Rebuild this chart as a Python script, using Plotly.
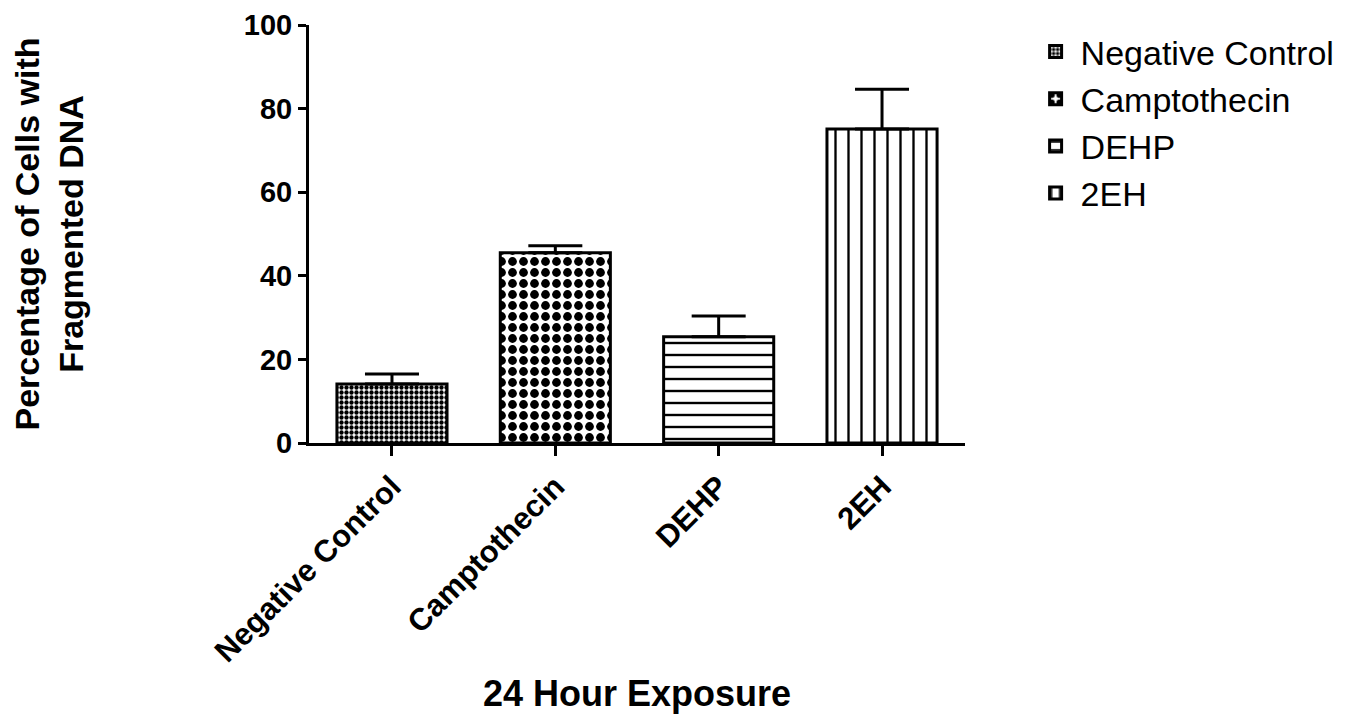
import plotly.graph_objects as go

categories = ["Negative Control", "Camptothecin", "DEHP", "2EH"]
means = [14.1, 45.5, 25.4, 75.1]
errors = [2.4, 1.7, 5.0, 9.5]
patterns = [".", ".", "-", "|"]
pattern_sizes = [5, 11, 12, 13]
pattern_solidity = [0.6, 0.5, 0.2, 0.18]

FONT = "Liberation Sans, Arial, sans-serif"

fig = go.Figure()
for i, cat in enumerate(categories):
    fig.add_trace(go.Bar(
        x=[cat], y=[means[i]], name=cat, width=0.674,
        legendgroup=cat,
        marker=dict(
            color="white",
            line=dict(color="black", width=3),
            pattern=dict(shape=patterns[i], size=pattern_sizes[i],
                         solidity=pattern_solidity[i],
                         fgcolor="black", bgcolor="white", fgopacity=1,
                         fillmode="overlay"),
        ),
        error_y=dict(type="data", array=[errors[i]], arrayminus=[0],
                     symmetric=False, color="black", thickness=3, width=27),
    ))

fig.update_layout(
    width=1343, height=706,
    barmode="overlay",
    paper_bgcolor="white", plot_bgcolor="white",
    margin=dict(l=301, r=386, t=17, b=271, autoexpand=False),
    font=dict(family=FONT, color="black", size=24),
    legend=dict(x=1.10, y=1.005, xanchor="left", yanchor="top",
                font=dict(size=34, family=FONT), tracegroupgap=0,
                itemwidth=40, bgcolor="rgba(0,0,0,0)"),
    xaxis=dict(
        range=[-0.508, 3.508], showline=True, linecolor="black", linewidth=3,
        ticks="outside", ticklen=10, tickwidth=3, tickcolor="black",
        tickangle=-45, tickfont=dict(size=31, family=FONT, weight="bold"),
        title=dict(text="24 Hour Exposure", font=dict(size=36, weight="bold"), standoff=14),
        showgrid=False, zeroline=False, automargin=False,
    ),
    yaxis=dict(
        range=[0, 100], tickvals=[0, 20, 40, 60, 80, 100],
        showline=True, linecolor="black", linewidth=3,
        ticks="outside", ticklen=8, tickwidth=3, tickcolor="black",
        tickfont=dict(size=29, family=FONT, weight="bold"),
        title=dict(text="Percentage of Cells with<br>Fragmented DNA",
                   font=dict(size=34, weight="bold"), standoff=152),
        showgrid=False, zeroline=False, automargin=False,
    ),
)

fig.write_html("out.html")
